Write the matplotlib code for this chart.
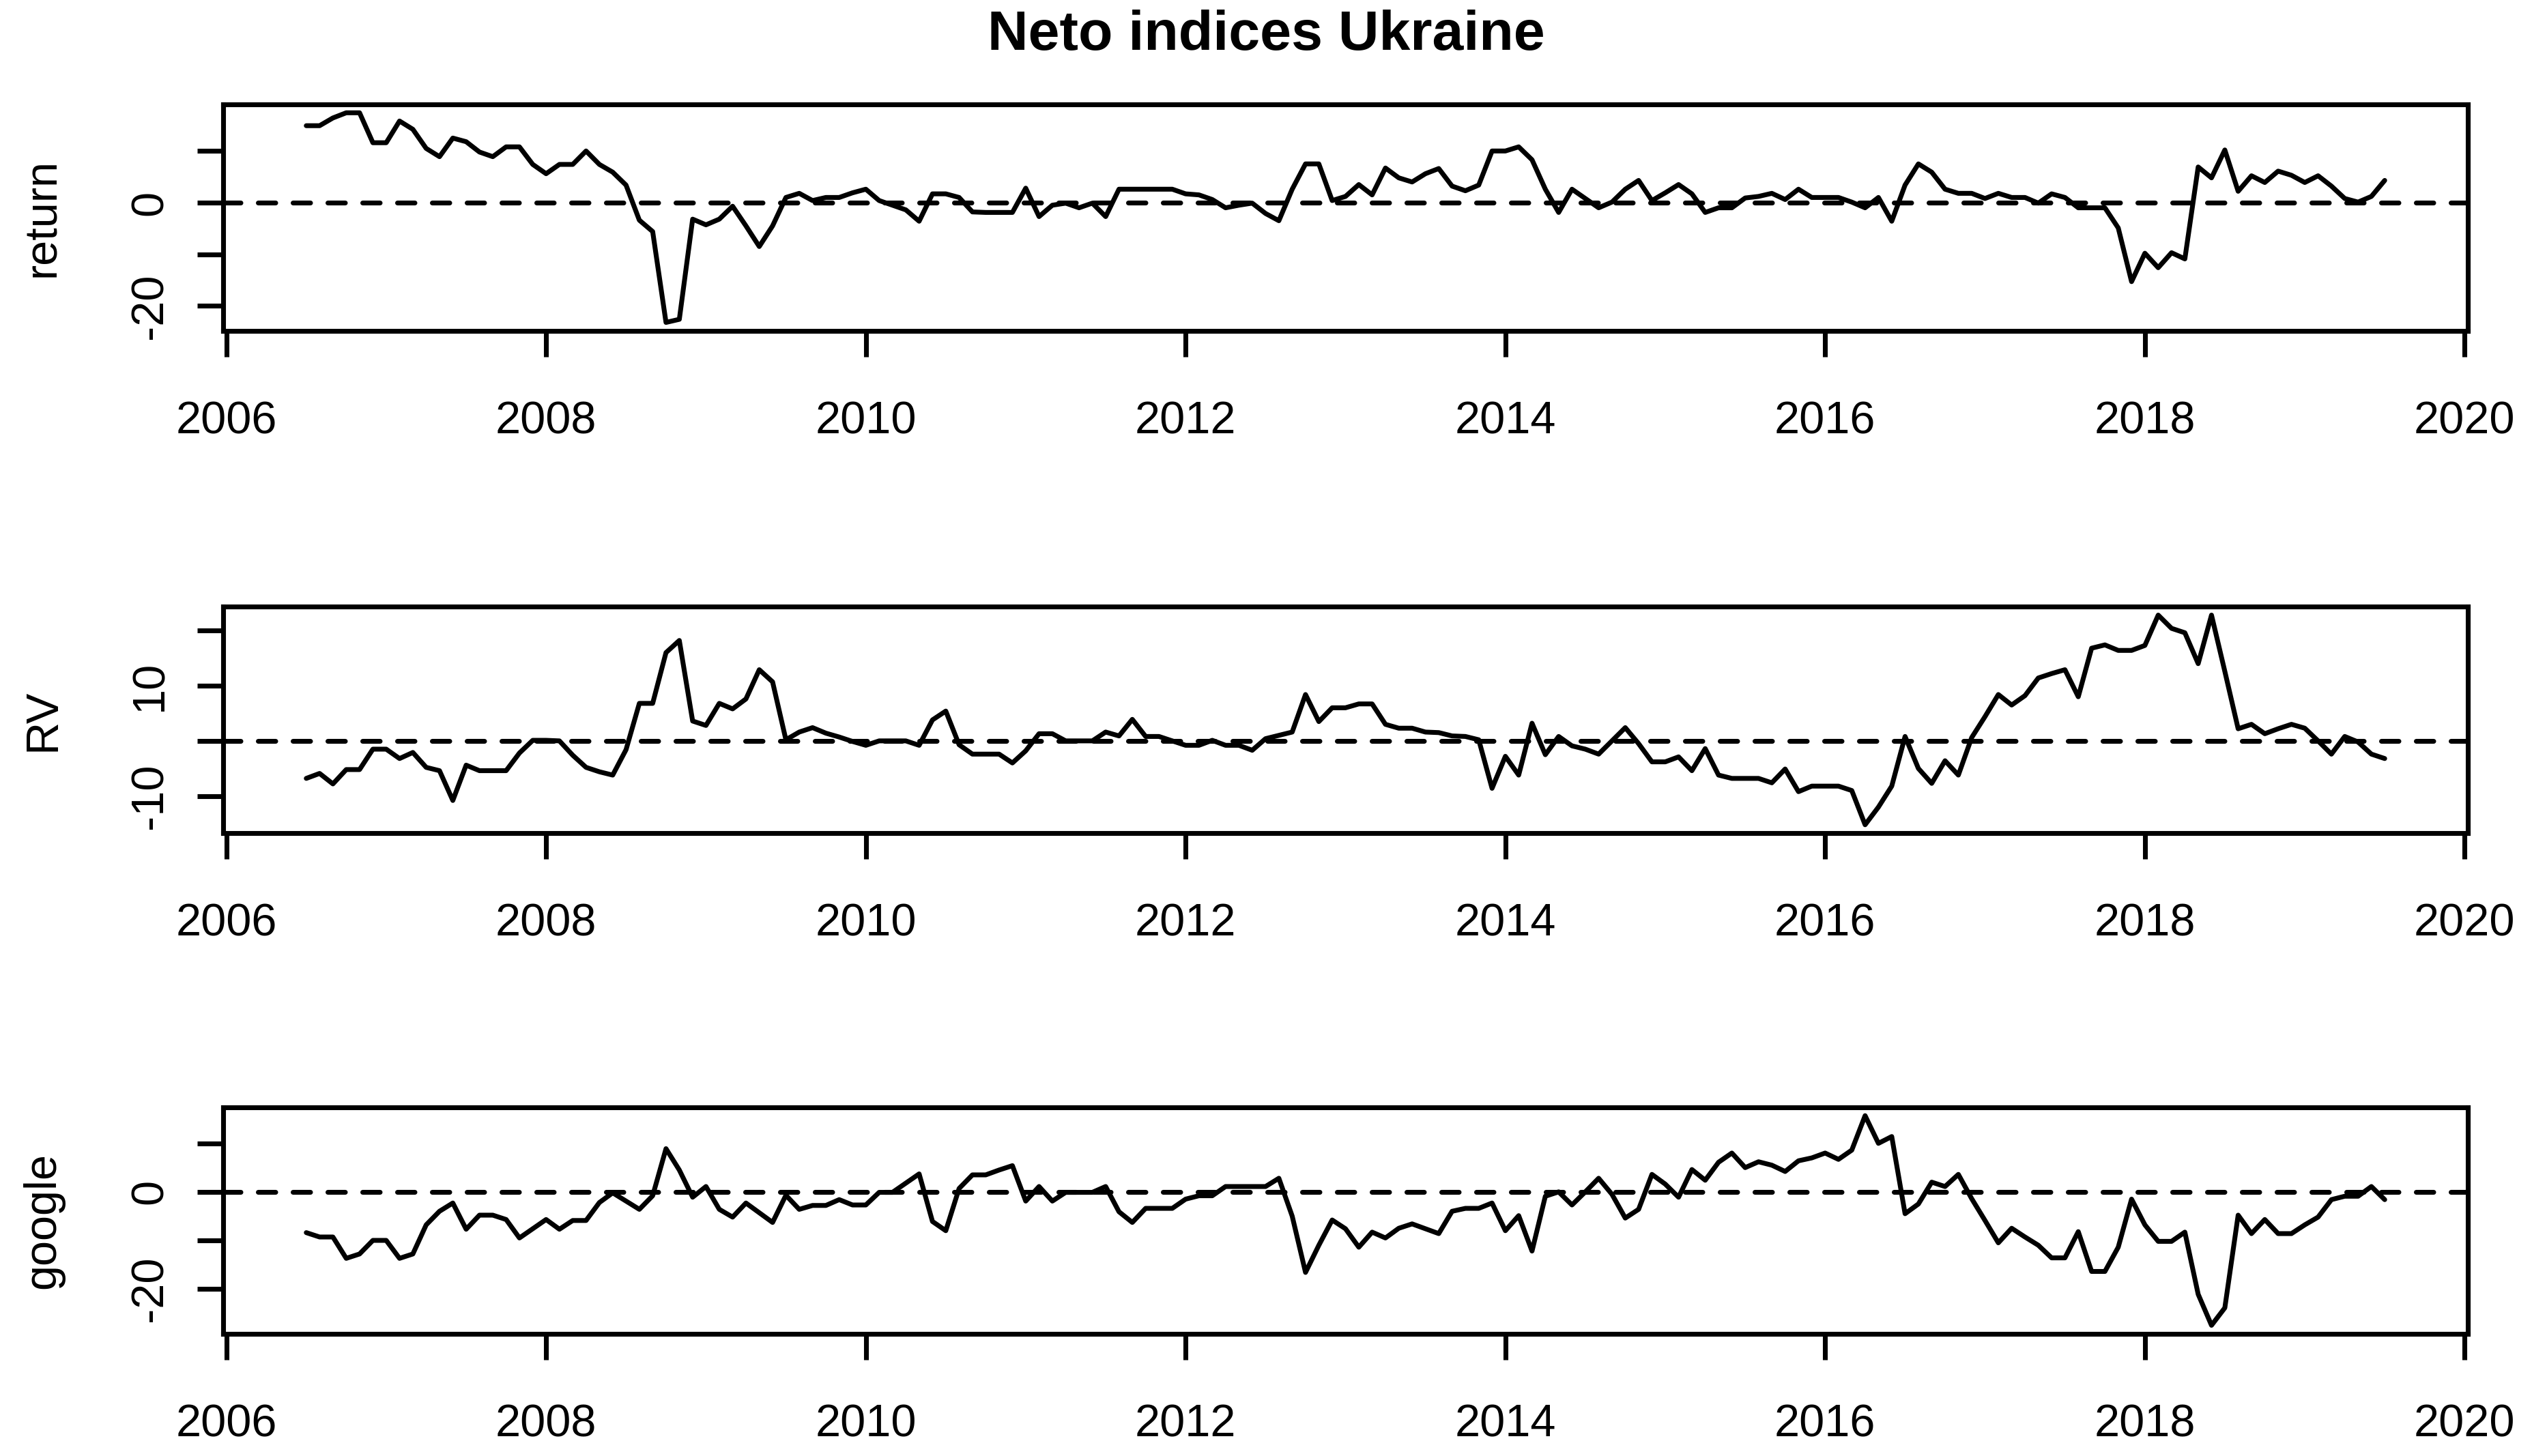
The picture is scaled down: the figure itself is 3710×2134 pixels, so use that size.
# -*- coding: utf-8 -*-
"""Neto indices Ukraine: three monthly series, R base-graphics look."""
import numpy as np
import matplotlib
matplotlib.use("Agg")
import matplotlib.pyplot as plt
from matplotlib import rcParams

TINTA = "#000000"
LW = 1.7            # grosor de líneas y marco (pt)
DASH = (0, (3.6, 3.6))

rcParams.update({
    "font.family": ["Liberation Sans", "DejaVu Sans"],
    "font.size": 16,
    "text.color": TINTA,
    "axes.edgecolor": TINTA,
    "axes.linewidth": LW,
    "xtick.major.size": 9.1,
    "ytick.major.size": 9.1,
    "xtick.major.width": LW,
    "ytick.major.width": LW,
    "xtick.major.pad": 15.5,
    "ytick.major.pad": 9.0,
})

# ---- datos (mensuales, 2006-07 .. 2019-07) ----
START_YEAR, START_MONTH = 2006, 7

ret = [14.9, 14.9, 16.4, 17.4, 17.4, 11.6, 11.6, 15.8, 14.2, 10.5,
       8.9, 12.5, 11.8, 9.8, 8.9, 10.8, 10.8, 7.4, 5.6, 7.4,
       7.4, 10.0, 7.4, 5.9, 3.4, -3.4, -5.6, -23.2, -22.6, -3.2,
       -4.3, -3.2, -0.7, -4.5, -8.5, -4.5, 1.0, 1.8, 0.4, 1.0,
       1.0, 1.9, 2.6, 0.4, -0.5, -1.4, -3.6, 1.7, 1.7, 1.0,
       -1.8, -1.9, -1.9, -1.9, 2.8, -2.7, -0.5, -0.1, -1.0, -0.1,
       -2.7, 2.6, 2.6, 2.6, 2.6, 2.6, 1.7, 1.5, 0.6, -1.0,
       -0.5, -0.1, -2.1, -3.5, 2.6, 7.5, 7.5, 0.4, 1.2, 3.5,
       1.5, 6.7, 4.8, 4.0, 5.6, 6.6, 3.2, 2.3, 3.4, 10.0,
       10.0, 10.8, 8.3, 2.6, -1.9, 2.6, 0.8, -1.0, 0.1, 2.6,
       4.3, 0.4, 1.9, 3.5, 1.7, -1.9, -1.0, -1.0, 0.9, 1.2,
       1.8, 0.6, 2.6, 1.0, 1.0, 1.0, 0.1, -1.0, 1.0, -3.6,
       3.4, 7.5, 5.9, 2.6, 1.8, 1.8, 0.8, 1.8, 1.0, 1.0,
       -0.1, 1.7, 1.0, -1.0, -1.0, -1.0, -4.9, -15.3, -9.8, -12.6,
       -9.7, -10.9, 6.9, 4.8, 10.2, 2.2, 5.2, 3.9, 6.1, 5.3,
       3.9, 5.2, 3.2, 0.8, 0.1, 1.2, 4.3]

rv = [-6.8, -5.9, -7.8, -5.2, -5.2, -1.5, -1.5, -3.2, -2.1, -4.8,
      -5.4, -10.8, -4.4, -5.4, -5.4, -5.4, -2.2, 0.1, 0.1, 0.0,
      -2.6, -4.8, -5.6, -6.2, -1.6, 6.8, 6.8, 16.0, 18.2, 3.6,
      2.8, 6.8, 5.8, 7.6, 12.9, 10.7, 0.2, 1.6, 2.4, 1.4,
      0.7, -0.1, -0.8, 0.0, 0.0, 0.0, -0.8, 3.8, 5.4, -0.7,
      -2.4, -2.4, -2.4, -4.0, -1.8, 1.3, 1.3, 0.0, 0.0, 0.0,
      1.6, 0.9, 3.9, 0.8, 0.8, 0.0, -0.8, -0.8, 0.1, -0.8,
      -0.8, -1.7, 0.4, 1.0, 1.6, 8.4, 3.5, 6.0, 6.0, 6.7,
      6.7, 3.0, 2.3, 2.3, 1.6, 1.5, 0.9, 0.8, 0.2, -8.6,
      -2.8, -6.2, 3.2, -2.5, 0.8, -0.9, -1.5, -2.4, 0.0, 2.4,
      -0.5, -3.8, -3.8, -2.9, -5.4, -1.4, -6.2, -6.8, -6.8, -6.8,
      -7.6, -5.1, -9.2, -8.2, -8.2, -8.2, -9.0, -15.2, -12.0, -8.2,
      0.8, -5.0, -7.7, -3.6, -6.2, 0.6, 4.4, 8.4, 6.5, 8.2,
      11.4, 12.2, 12.9, 8.0, 16.8, 17.4, 16.4, 16.4, 17.3, 22.8,
      20.4, 19.6, 14.0, 22.8, 12.6, 2.2, 3.0, 1.3, 2.2, 3.0,
      2.3, 0.0, -2.4, 0.8, -0.2, -2.4, -3.2]

google = [-8.4, -9.3, -9.3, -13.7, -12.8, -10.0, -10.0, -13.7, -12.8, -6.8,
          -4.0, -2.3, -7.7, -4.8, -4.8, -5.7, -9.5, -7.6, -5.7, -7.7,
          -5.9, -5.9, -2.2, -0.2, -1.9, -3.6, -0.8, 8.9, 4.5, -1.1,
          1.1, -3.6, -5.2, -2.3, -4.3, -6.3, -0.7, -3.6, -2.8, -2.8,
          -1.6, -2.7, -2.7, -0.1, -0.1, 1.8, 3.7, -6.1, -8.0, 0.7,
          3.5, 3.5, 4.5, 5.4, -1.9, 1.1, -1.9, -0.1, -0.1, -0.1,
          1.1, -4.1, -6.3, -3.4, -3.4, -3.4, -1.5, -0.8, -0.8, 1.1,
          1.1, 1.1, 1.1, 2.8, -5.0, -16.6, -11.0, -5.8, -7.6, -11.4,
          -8.3, -9.5, -7.5, -6.6, -7.6, -8.6, -4.0, -3.4, -3.4, -2.3,
          -8.0, -4.9, -12.2, -0.9, 0.0, -2.7, 0.0, 2.8, -0.5, -5.4,
          -3.6, 3.6, 1.6, -1.1, 4.6, 2.4, 6.1, 8.0, 5.0, 6.2,
          5.5, 4.2, 6.4, 7.0, 8.0, 6.7, 8.6, 15.7, 10.0, 11.4,
          -4.5, -2.5, 2.0, 1.1, 3.6, -1.4, -5.9, -10.5, -7.5, -9.3,
          -11.0, -13.6, -13.6, -8.2, -16.4, -16.4, -11.4, -1.5, -6.8, -10.2,
          -10.2, -8.3, -21.1, -27.5, -23.9, -4.8, -8.6, -5.7, -8.6, -8.6,
          -6.8, -5.2, -1.6, -0.9, -0.9, 1.1, -1.6]

series = [ret, rv, google]
ylabels = ["return", "RV", "google"]
yticks = [[-20, -10, 0, 10], [-10, 0, 10, 20], [-20, -10, 0, 10]]
ytick_labels = [["-20", "", "0", ""], ["-10", "", "10", ""], ["-20", "", "0", ""]]
xticks = [2006, 2008, 2010, 2012, 2014, 2016, 2018, 2020]
title = "Neto indices Ukraine"

# ---- figura ----
fig = plt.figure(figsize=(3711 / 300, 2134 / 300), dpi=300)
left, width, height = 0.0881, 0.8863, 0.1555
bottoms = [0.7728, 0.4278, 0.0840]

for vals, lbl, yt, ytl, b in zip(series, ylabels, yticks, ytick_labels, bottoms):
    ax = fig.add_axes([left, b, width, height])
    vals = np.asarray(vals)
    t = START_YEAR + (START_MONTH - 1) / 12 + np.arange(len(vals)) / 12

    ax.plot(t, vals, color=TINTA, lw=LW, solid_joinstyle="round",
            solid_capstyle="round", zorder=3)
    ax.axhline(0, color=TINTA, lw=LW, ls=DASH, dash_capstyle="round", zorder=2)

    # rango estilo R: 4% a cada lado
    tr = t[-1] - t[0]
    ax.set_xlim(t[0] - 0.04 * tr, t[-1] + 0.04 * tr)
    lo, hi = vals.min(), vals.max()
    ax.set_ylim(lo - 0.04 * (hi - lo), hi + 0.04 * (hi - lo))

    ax.set_xticks(xticks)
    ax.set_xticklabels([str(x) for x in xticks])
    ax.set_yticks(yt)
    ax.set_yticklabels(ytl, rotation=90, va="center")
    ax.set_ylabel(lbl)
    ax.yaxis.set_label_coords(-0.0708, 0.5)

fig.text(0.5, 0.9756, title, ha="center", va="center",
         fontsize=19.8, fontweight="bold")

fig.savefig("out.png", dpi=300)
